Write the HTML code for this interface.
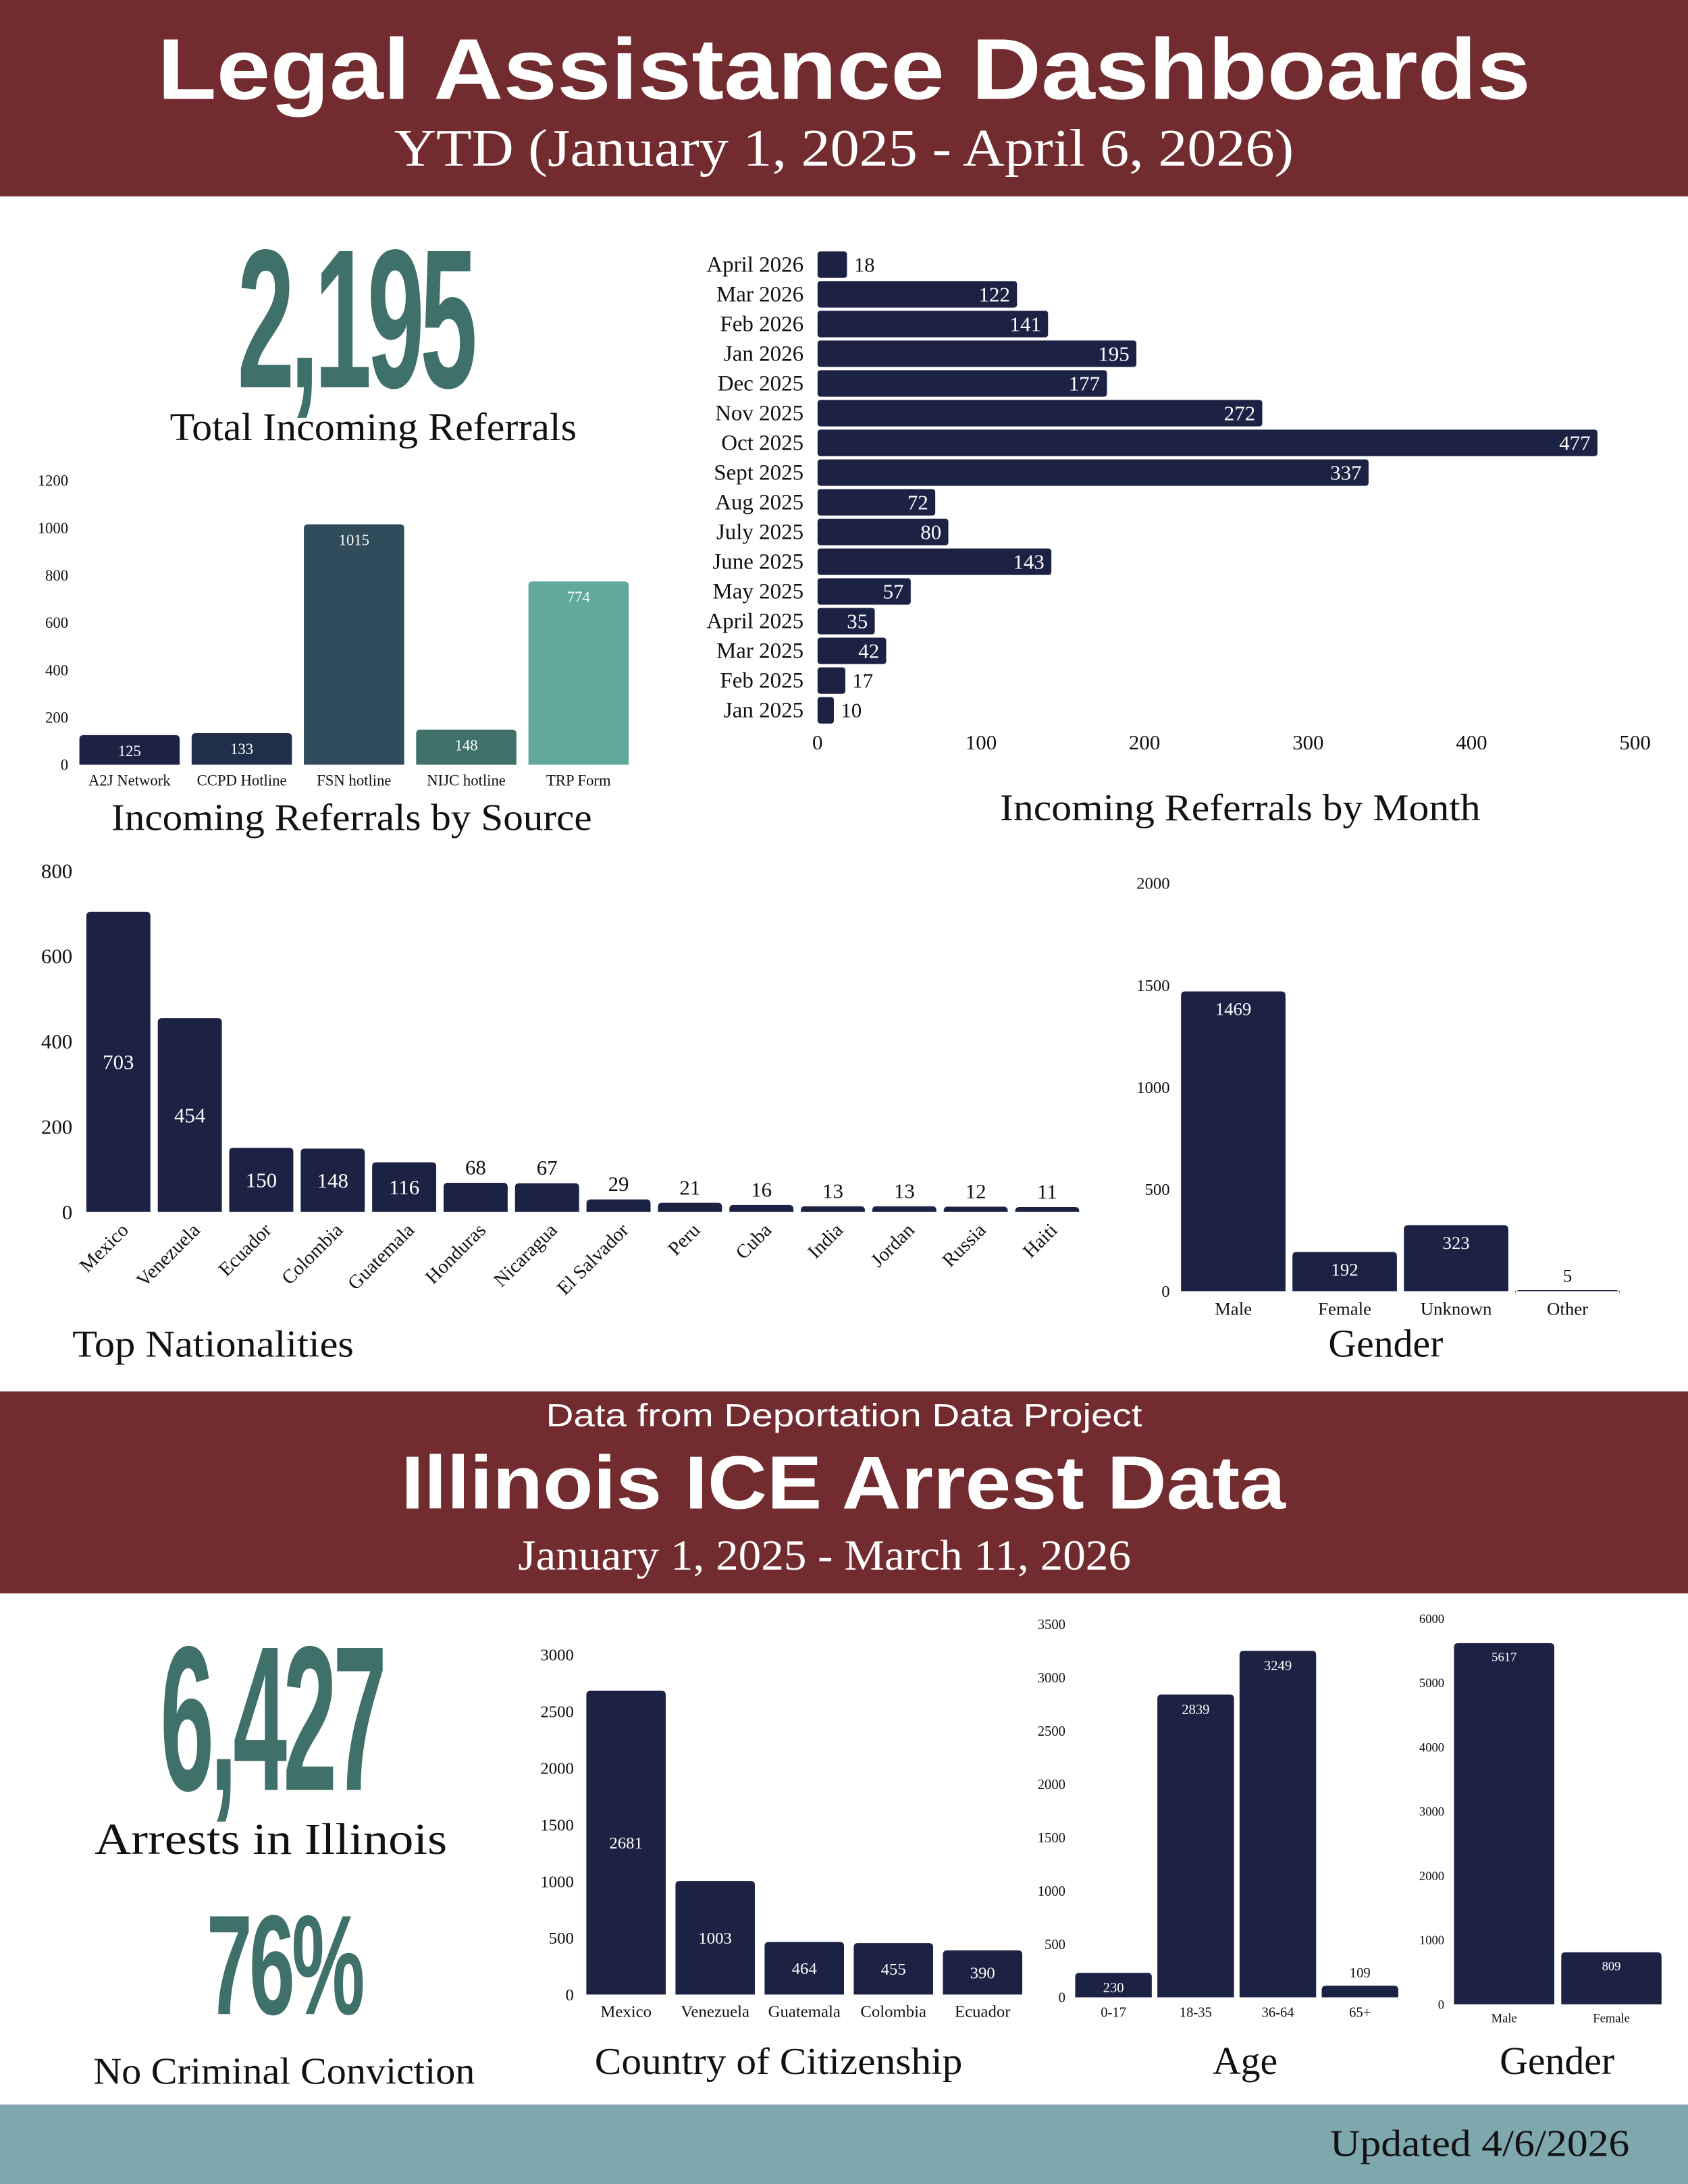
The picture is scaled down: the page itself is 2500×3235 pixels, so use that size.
<!DOCTYPE html>
<html><head><meta charset="utf-8">
<style>
html,body{margin:0;padding:0;background:#fff;}
svg{display:block;}
.serif{font-family:"Liberation Serif",serif;}
.sans{font-family:"Liberation Sans",sans-serif;}
</style></head>
<body>
<svg id="page" width="2500" height="3235" viewBox="0 0 1212 1568" preserveAspectRatio="none" xmlns="http://www.w3.org/2000/svg">
<rect x="0" y="0" width="1212" height="1568" fill="#fff"/>
<g>
<rect x="0" y="0" width="1212" height="141" fill="#722B2F"/>
<text x="113" y="71" textLength="986" lengthAdjust="spacingAndGlyphs" class="sans" font-weight="bold" font-size="62" fill="#fff">Legal Assistance Dashboards</text>
<text x="283" y="119" textLength="646" lengthAdjust="spacingAndGlyphs" class="serif" font-size="38" fill="#fff">YTD (January 1, 2025 - April 6, 2026)</text>
</g>
<text x="255" y="278" text-anchor="middle" class="sans" font-weight="bold" font-size="142" fill="#3F716A" transform="translate(255 0) scale(0.52 1) translate(-255 0)" letter-spacing="-6">2,195</text>
<text x="122" y="316" textLength="292" lengthAdjust="spacingAndGlyphs" class="serif" font-size="28" fill="#111">Total Incoming Referrals</text>
<g id="src"></g>
<text x="80" y="596" textLength="345" lengthAdjust="spacingAndGlyphs" class="serif" font-size="27" fill="#111">Incoming Referrals by Source</text>
<g id="month"></g>
<text x="718" y="589" textLength="345" lengthAdjust="spacingAndGlyphs" class="serif" font-size="27" fill="#111">Incoming Referrals by Month</text>
<g id="nat"></g>
<text x="52" y="974" textLength="202" lengthAdjust="spacingAndGlyphs" class="serif" font-size="27" fill="#111">Top Nationalities</text>
<g id="gen"></g>
<text x="995" y="974" text-anchor="middle" class="serif" font-size="28" fill="#111">Gender</text>
<g>
<rect x="0" y="999" width="1212" height="145" fill="#722B2F"/>
<text x="392" y="1024" textLength="428" lengthAdjust="spacingAndGlyphs" class="sans" font-size="23" fill="#fff">Data from Deportation Data Project</text>
<text x="288" y="1083" textLength="635" lengthAdjust="spacingAndGlyphs" class="sans" font-weight="bold" font-size="54" fill="#fff">Illinois ICE Arrest Data</text>
<text x="372" y="1127" textLength="440" lengthAdjust="spacingAndGlyphs" class="serif" font-size="31" fill="#fff">January 1, 2025 - March 11, 2026</text>
</g>
<text x="195" y="1285" text-anchor="middle" class="sans" font-weight="bold" font-size="148" fill="#3F716A" transform="translate(195 0) scale(0.47 1) translate(-195 0)" letter-spacing="-6">6,427</text>
<text x="68" y="1331" textLength="253" lengthAdjust="spacingAndGlyphs" class="serif" font-size="32" fill="#111">Arrests in Illinois</text>
<text x="204" y="1446" text-anchor="middle" class="sans" font-weight="bold" font-size="102" fill="#3F716A" transform="translate(204 0) scale(0.58 1) translate(-204 0)" letter-spacing="-4">76%</text>
<text x="67" y="1496" textLength="274" lengthAdjust="spacingAndGlyphs" class="serif" font-size="27" fill="#111">No Criminal Conviction</text>
<g id="cit"></g>
<text x="427" y="1489" textLength="264" lengthAdjust="spacingAndGlyphs" class="serif" font-size="27" fill="#111">Country of Citizenship</text>
<g id="age"></g>
<text x="894" y="1489" text-anchor="middle" class="serif" font-size="28" fill="#111">Age</text>
<g id="gen2"></g>
<text x="1118" y="1489" text-anchor="middle" class="serif" font-size="28" fill="#111">Gender</text>
<g>
<rect x="0" y="1511" width="1212" height="57" fill="#7EA7AE"/>
<text x="955" y="1548" textLength="215" lengthAdjust="spacingAndGlyphs" class="serif" font-size="27" fill="#111">Updated 4/6/2026</text>
</g>
</svg>
<script>
const srcCats=["A2J Network","CCPD Hotline","FSN hotline","NIJC hotline","TRP Form"];
const srcVals=[125,133,1015,148,774];
const srcTicks=[0,200,400,600,800,1000,1200];
const monthCats=["April 2026","Mar 2026","Feb 2026","Jan 2026","Dec 2025","Nov 2025","Oct 2025","Sept 2025","Aug 2025","July 2025","June 2025","May 2025","April 2025","Mar 2025","Feb 2025","Jan 2025"];
const monthVals=[18,122,141,195,177,272,477,337,72,80,143,57,35,42,17,10];
const monthTicks=[0,100,200,300,400,500];
const natCats=["Mexico","Venezuela","Ecuador","Colombia","Guatemala","Honduras","Nicaragua","El Salvador","Peru","Cuba","India","Jordan","Russia","Haiti"];
const natVals=[703,454,150,148,116,68,67,29,21,16,13,13,12,11];
const natTicks=[0,200,400,600,800];
const genCats=["Male","Female","Unknown","Other"];
const genVals=[1469,192,323,5];
const genTicks=[0,500,1000,1500,2000];
const citCats=["Mexico","Venezuela","Guatemala","Colombia","Ecuador"];
const citVals=[2681,1003,464,455,390];
const citTicks=[0,500,1000,1500,2000,2500,3000];
const ageCats=["0-17","18-35","36-64","65+"];
const ageVals=[230,2839,3249,109];
const ageTicks=[0,500,1000,1500,2000,2500,3000,3500];
const gen2Cats=["Male","Female"];
const gen2Vals=[5617,809];
const gen2Ticks=[0,1000,2000,3000,4000,5000,6000];

const NS="http://www.w3.org/2000/svg";
function mk(parent,tag,attrs,txt){const e=document.createElementNS(NS,tag);for(const k in attrs)e.setAttribute(k,attrs[k]);if(txt!==undefined)e.textContent=txt;parent.appendChild(e);return e;}
function vbar(id,o){
  const g=document.getElementById(id);
  const y=v=>o.y0-(v/o.max)*(o.y0-o.yTop);
  o.ticks.forEach(t=>{const e=mk(g,'text',{x:o.tx,y:y(t)+o.tfs*0.35,'text-anchor':'end','font-size':o.tfs,fill:'#111','class':'serif'},t);
    
    });
  o.cats.forEach((c,i)=>{
    const v=o.vals[i];const x=o.x0+i*o.step;const top=y(v);
    const r=mk(g,'path',{d:`M${x},${o.y0}V${top+3}Q${x},${top} ${x+3},${top}H${x+o.w-3}Q${x+o.w},${top} ${x+o.w},${top+3}V${o.y0}Z`,fill:o.colors?o.colors[i]:'#1C2244'});
    
    
    let ly,fill='#fff';
    const h=o.y0-top;
    if(o.mode==='mid'&&h>o.minIn){ly=(top+o.y0)/2+o.vfs*0.35;}
    else if(h>o.minIn){ly=top+o.vfs+4;}
    else {ly=top-6;fill='#111';}
    const vt=mk(g,'text',{x:x+o.w/2,y:ly,'text-anchor':'middle','font-size':o.vfs,fill:fill,'class':'serif'},v);
    
    
    let ct;
    if(o.rot){ct=mk(g,'text',{x:x+o.w/2+8,y:o.y0+14,'text-anchor':'end','font-size':o.cfs,fill:'#111','class':'serif',transform:`rotate(-45 ${x+o.w/2+8} ${o.y0+14})`},c);}
    else ct=mk(g,'text',{x:x+o.w/2,y:o.y0+o.cfs+4,'text-anchor':'middle','font-size':o.cfs,fill:'#111','class':'serif'},c);
    
    
  });
}
vbar('src',{cats:srcCats,vals:srcVals,ticks:srcTicks,max:1200,y0:549,yTop:345,tx:49,tfs:11,x0:57,step:80.6,w:72,vfs:11,cfs:11,minIn:10,colors:['#1C2244','#1F2E4A','#304B5A','#3F716A','#62A89C']});
vbar('nat',{cats:natCats,vals:natVals,ticks:natTicks,max:800,y0:870,yTop:625,tx:52,tfs:15,x0:62,step:51.3,w:46,vfs:15,cfs:14,minIn:30,mode:'mid',rot:true});
vbar('gen',{cats:genCats,vals:genVals,ticks:genTicks,max:2000,y0:927,yTop:634,tx:840,tfs:12,x0:848,step:80,w:75,vfs:13,cfs:13,minIn:20});
vbar('cit',{cats:citCats,vals:citVals,ticks:citTicks,max:3000,y0:1432,yTop:1188,tx:412,tfs:12,x0:421,step:64,w:57,vfs:12,cfs:12,minIn:20,mode:'mid'});
vbar('age',{cats:ageCats,vals:ageVals,ticks:ageTicks,max:3500,y0:1434,yTop:1166,tx:765,tfs:10,x0:772,step:59,w:55,vfs:10,cfs:10,minIn:12});
vbar('gen2',{cats:gen2Cats,vals:gen2Vals,ticks:gen2Ticks,max:6000,y0:1439,yTop:1162,tx:1037,tfs:9,x0:1044,step:77,w:72,vfs:9,cfs:9,minIn:12});
(function(){
  const g=document.getElementById('month');
  const x=v=>587+v*(1174-587)/500;
  monthCats.forEach((c,i)=>{
    const yc=190+i*21.33;
    const l=mk(g,'text',{x:577,y:yc+5,'text-anchor':'end','font-size':16,fill:'#111','class':'serif'},c);
    
    
    const v=monthVals[i];
    const r=mk(g,'rect',{x:587,y:yc-9.5,width:x(v)-587,height:19,rx:2,fill:'#1C2244'});
    
    
    let t;
    if(v>=30)t=mk(g,'text',{x:x(v)-5,y:yc+5,'text-anchor':'end','font-size':15,fill:'#fff','class':'serif'},v);
    else t=mk(g,'text',{x:x(v)+5,y:yc+5,'font-size':15,fill:'#111','class':'serif'},v);
    
    
  });
  monthTicks.forEach(tk=>{const t=mk(g,'text',{x:x(tk),y:538,'text-anchor':'middle','font-size':15,fill:'#111','class':'serif'},tk);
    
    });
})();
</script>
</body></html>
